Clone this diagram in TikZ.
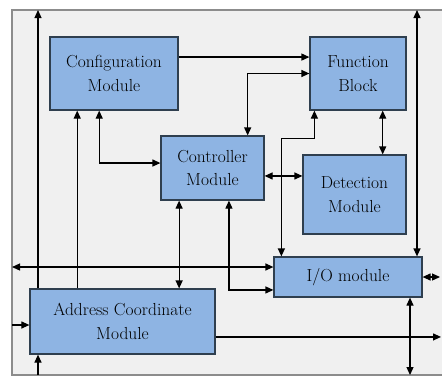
\documentclass[tikz,border=0pt]{standalone}
\usepackage{xcolor}
\usetikzlibrary{arrows.meta}
\definecolor{boxblue}{HTML}{8EB4E3}
\definecolor{boxline}{HTML}{2F3F4F}
\definecolor{panel}{HTML}{F0F0F0}
\definecolor{panelline}{HTML}{8C8C8C}

\begin{document}
\begin{tikzpicture}
  [x=1bp,y=-1bp,
   every node/.style={rectangle,draw=boxline,line width=1.2bp,fill=boxblue,
     inner sep=0pt,align=center,text=black,font=\fontsize{17.5}{24}\selectfont},
   arr/.style={line width=1.2bp,-{Triangle[length=8bp,width=7bp]}},
   biarr/.style={line width=1.2bp,{Triangle[length=8bp,width=7bp]}-{Triangle[length=8bp,width=7bp]}}]
  \useasboundingbox (0,0) rectangle (442,379);
  \fill[panel] (12,10) rectangle (442,375);
  \draw[panelline,line width=1.5bp] (442,10) -- (12,10) -- (12,375) -- (442,375);

  \node[minimum width=128bp,minimum height=73bp] (conf) at (114,73.5) {Configuration\\Module};
  \node[minimum width=96bp,minimum height=73bp] (func) at (358,73.5) {Function\\Block};
  \node[minimum width=103bp,minimum height=64bp] (ctrl) at (212.5,168) {Controller\\Module};
  \node[minimum width=103bp,minimum height=79bp] (det) at (354.5,194.5) {Detection\\Module};
  \node[minimum width=148bp,minimum height=40bp] (io) at (348,277) {I/O module};
  \node[minimum width=185bp,minimum height=65bp] (addr) at (122.5,321.5) {Address Coordinate\\Module};

  \coordinate (topL) at (38,10);
  \coordinate (botL) at (38,375);
  \coordinate (topR) at (417,10);
  \coordinate (botR) at (410,375);
  \coordinate (midL) at (12,267);
  \coordinate (inL) at (12,325);
  \coordinate (outR) at (441,337);
  \coordinate (ioR) at (440,277);

  \draw[arr] (addr.north -| topL) -- (topL);
  \draw[arr] (botL) -- (addr.south -| botL);
  \draw[arr] ([xshift=48]addr.north west) -- ([xshift=48]addr.north west |- conf.south);
  \draw[biarr] ([xshift=50]conf.south west) |- ([yshift=5]ctrl.west);
  \draw[arr] ([yshift=16.5]conf.east) -- ([yshift=16.5]conf.east -| func.west);
  \draw[biarr] ([xshift=-17]ctrl.north east) |- (func.west);
  \draw[biarr] ([yshift=-8]ctrl.east) -- ([yshift=-8]ctrl.east -| det.west);
  \draw[biarr] ([xshift=-24]func.south east) -- ([xshift=-24]func.south east |- det.north);
  \draw[biarr] ([xshift=8]io.north west) -- ++(0,-118) -| ([xshift=5]func.south west);
  \draw[biarr] (topR) -- (topR |- io.north);
  \draw[biarr] ([xshift=-33.5]ctrl.south) -- ([xshift=-33.5]ctrl.south |- addr.north);
  \draw[biarr] ([xshift=16.5]ctrl.south) |- ([yshift=-13]io.west);
  \draw[biarr] (midL) -- (midL -| io.west);
  \draw[biarr] (io.east) -- (ioR);
  \draw[arr] ([yshift=-15.5]addr.east) -- ([yshift=-15.5]addr.east -| outR);
  \draw[biarr] (io.south -| botR) -- (botR);
  \draw[arr] (inL) -- (inL -| addr.west);
\end{tikzpicture}
\end{document}
